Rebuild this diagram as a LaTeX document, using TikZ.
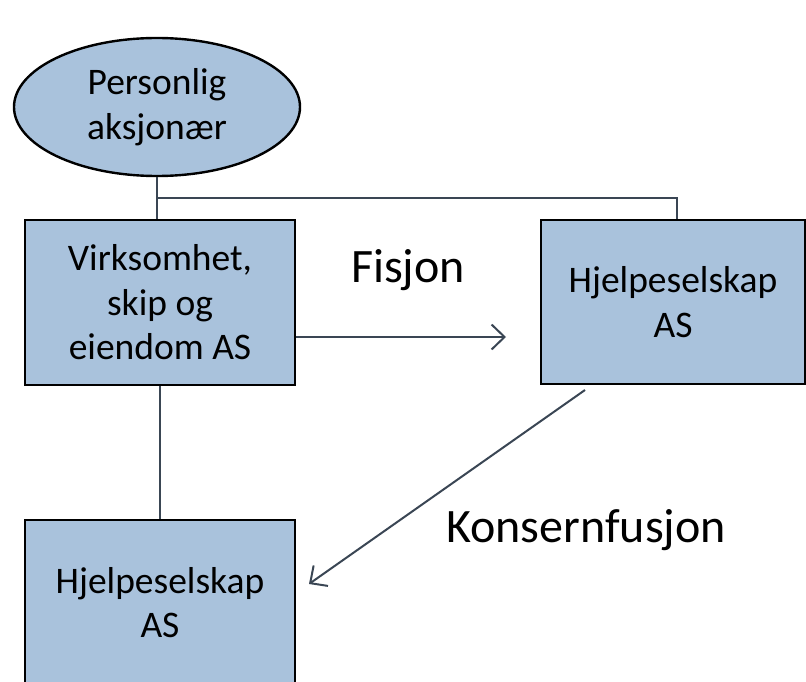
\documentclass[tikz,border=0pt]{standalone}
\usepackage{fontspec}
\setmainfont{Carlito}
\usetikzlibrary{arrows.meta,shapes.geometric}

\definecolor{boxblue}{HTML}{A9C2DC}
\definecolor{linegray}{HTML}{3A4654}

\tikzset{
	unit/.style={draw=black, line width=2.4pt, fill=boxblue, align=center,
		font=\fontsize{37.5}{44.5}\selectfont},
	unitbox/.style={unit, rectangle, minimum width=270pt, minimum height=165pt},
	owner/.style={unit, ellipse, minimum width=286pt, minimum height=138pt, inner sep=0pt},
	link/.style={draw=linegray, line width=2pt},
	arr/.style={link, -{Straight Barb[length=13pt,width=25pt,line width=2pt]}},
	lbl/.style={font=\fontsize{48}{54}\selectfont}
}

\begin{document}
\begin{tikzpicture}[x=1pt, y=-1pt]
		\useasboundingbox (0, 0) rectangle (806, 682);
		\begin{scope}
		\clip (0, 0) rectangle (806, 682);

		\node [owner] (aksjonaer) at (157, 107) {Personlig\\aksjonær};
		\node [unitbox] (virksomhet) at (160, 302.5) {Virksomhet,\\skip og\\eiendom AS};
		\node [unitbox, minimum width=264pt, minimum height=164pt] (hjelpA) at (673, 302) {Hjelpeselskap\\AS};
		\node [unitbox] (hjelpB) at (160, 602.5) {Hjelpeselskap\\AS};

		% eierlinjer
		\coordinate (gren) at (157, 198);
		\coordinate (grenH) at (677, 198);
		\draw [link] (aksjonaer.south) -- (aksjonaer.south |- virksomhet.north);
		\draw [link] (gren) -- (grenH) -- (grenH |- hjelpA.north);
		\draw [link] (virksomhet.south -| 160, 0) -- (hjelpB.north);

		% fisjon
		\coordinate (fisStart) at (296, 337);
		\coordinate (fisEnd) at (506, 337);
		\draw [arr] (fisStart) -- (fisEnd);
		\node [lbl] (fisjon) at (408, 270) {Fisjon};

		% konsernfusjon
		\coordinate (fusStart) at (585, 390);
		\coordinate (fusEnd) at (309, 584);
		\draw [arr] (fusStart) -- (fusEnd);
		\node [lbl] (fusjon) at (586, 530) {Konsernfusjon};
		\end{scope}
	\end{tikzpicture}
\end{document}
